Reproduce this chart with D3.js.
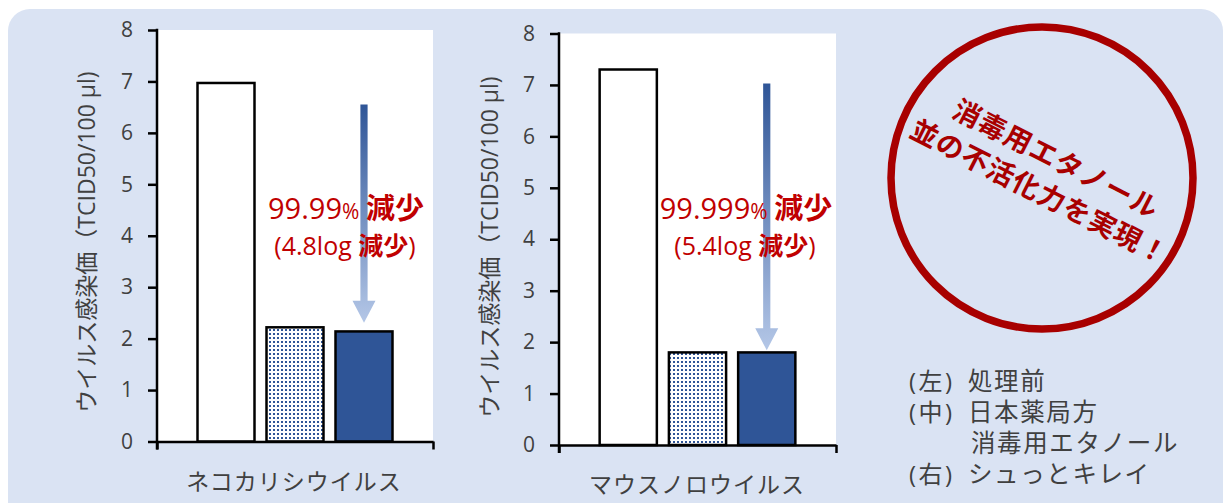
<!DOCTYPE html>
<html>
<head>
<meta charset="utf-8">
<script src="https://cdn.jsdelivr.net/npm/d3@7"></script>
<style>
  html, body { margin: 0; padding: 0; background: #ffffff; }
  svg { display: block; }
  text { font-family: "Open Sans", "Noto Sans CJK JP", sans-serif; }
</style>
</head>
<body>
<svg id="chart" width="1226" height="503"></svg>
<script>
// ---------------- data ----------------
const seriesNames = ["処理前", "日本薬局方 消毒用エタノール", "シュっとキレイ"];
const felineCategory = ["ネコカリシウイルス"];
const felineValues = [6.97, 2.22, 2.14];
const murineCategory = ["マウスノロウイルス"];
const murineValues = [7.30, 1.80, 1.80];
const yTicks = [0, 1, 2, 3, 4, 5, 6, 7, 8];
const yLabel = "ウイルス感染価（TCID50/100 µl)";
const felineArrow = [6.55, 2.31];   // arrow from / to (log value)
const murineArrow = [7.03, 1.84];
const felineNote = ["99.99", "%", " 減少", "(4.8log ", "減少", ")"];
const murineNote = ["99.999", "%", " 減少", "(5.4log ", "減少", ")"];
const stampLines = ["消毒用エタノール", "並の不活化力を実現！"];
const legendKeys = ["(左)", "(中)", "", "(右)"];
const legendTexts = ["処理前", "日本薬局方", "消毒用エタノール", "シュっとキレイ"];

// ---------------- style ----------------
const panelFill = "#dae3f3";
const barBlue = "#2f5597";
const lightBlue = "#b4c7e7";
const textGray = "#404040";
const noteRed = "#c00000";
const stampRed = "#a80000";

const svg = d3.select("#chart");

const defs = svg.append("defs");
const pat = defs.append("pattern")
  .attr("id", "dots").attr("patternUnits", "userSpaceOnUse")
  .attr("width", 4).attr("height", 4);
pat.append("rect").attr("width", 4).attr("height", 4).attr("fill", "#ffffff");
pat.append("rect").attr("x", 1).attr("y", 1).attr("width", 2).attr("height", 2).attr("fill", barBlue);

const grad = defs.append("linearGradient")
  .attr("id", "arrowGrad").attr("x1", 0).attr("y1", 0).attr("x2", 0).attr("y2", 1);
grad.append("stop").attr("offset", "0%").attr("stop-color", barBlue);
grad.append("stop").attr("offset", "100%").attr("stop-color", lightBlue);

// panel
svg.append("rect")
  .attr("x", 8).attr("y", 9).attr("width", 1215).attr("height", 530)
  .attr("rx", 22).attr("ry", 22).attr("fill", panelFill);

function drawChart(cfg) {
  const g = svg.append("g");
  const y = d3.scaleLinear().domain([0, 8]).range([cfg.y1, cfg.y0]);
  const xCat = d3.scaleBand().domain(cfg.category).range([cfg.x0, cfg.x1])
    .paddingInner(0).paddingOuter(0.2077);
  const xSer = d3.scaleBand().domain(seriesNames).range([0, xCat.bandwidth()])
    .paddingInner(0.174).paddingOuter(0);

  // plot area
  g.append("rect").attr("x", cfg.x0).attr("y", cfg.y0)
    .attr("width", cfg.x1 - cfg.x0).attr("height", cfg.y1 - cfg.y0)
    .attr("fill", "#ffffff");

  // bars
  const fills = ["#ffffff", "url(#dots)", barBlue];
  g.selectAll("rect.bar").data(cfg.values).enter().append("rect")
    .attr("class", "bar")
    .attr("x", (d, i) => xCat(cfg.category[0]) + xSer(seriesNames[i]))
    .attr("y", d => y(d))
    .attr("width", xSer.bandwidth())
    .attr("height", d => y(0) - y(d))
    .attr("fill", (d, i) => fills[i])
    .attr("stroke", "#000").attr("stroke-width", 2.5);

  // y axis
  const ya = g.append("g").attr("transform", `translate(${cfg.x0},0)`)
    .call(d3.axisLeft(y).tickValues(yTicks).tickSize(9).tickSizeOuter(0).tickPadding(15));
  ya.select(".domain").remove();
  ya.selectAll(".tick line").attr("stroke", "#000").attr("stroke-width", 2.5);
  ya.selectAll(".tick text").attr("fill", textGray).attr("font-size", 21)
    .attr("font-family", "Open Sans, sans-serif");
  g.append("line").attr("x1", cfg.x0).attr("x2", cfg.x0)
    .attr("y1", cfg.y0 - 1.25).attr("y2", cfg.y1 + 8)
    .attr("stroke", "#000").attr("stroke-width", 2.5);

  // x axis
  const xl = d3.scaleLinear().domain([0, 1]).range([cfg.x0, cfg.x1]);
  const xa = g.append("g").attr("transform", `translate(0,${cfg.y1})`)
    .call(d3.axisBottom(xl).tickValues([0, 1]).tickSize(8).tickSizeOuter(0).tickFormat(""));
  xa.select(".domain").attr("stroke", "#000").attr("stroke-width", 2.5);
  xa.selectAll(".tick line").attr("stroke", "#000").attr("stroke-width", 2.5);

  // axis titles
  g.append("text")
    .attr("transform", `translate(${cfg.yLabelX},${cfg.yLabelY}) rotate(-90)`)
    .attr("text-anchor", "middle").attr("dominant-baseline", "central")
    .attr("fill", textGray).attr("font-size", 23)
    .text(yLabel);
  g.append("text")
    .attr("x", cfg.xLabelX).attr("y", cfg.xLabelY)
    .attr("text-anchor", "middle").attr("dominant-baseline", "central")
    .attr("fill", textGray).attr("font-size", 23).attr("letter-spacing", 1)
    .text(cfg.category[0]);

  // arrow
  const ax = xCat(cfg.category[0]) + xSer(seriesNames[2]) + xSer.bandwidth() / 2;
  const yTop = y(cfg.arrow[0]), yTip = y(cfg.arrow[1]);
  const head = 22, sw = 3.6, hw = 11.5;
  g.append("path")
    .attr("d", `M${ax - sw},${yTop} L${ax + sw},${yTop} L${ax + sw},${yTip - head} L${ax + hw},${yTip - head} L${ax},${yTip} L${ax - hw},${yTip - head} L${ax - sw},${yTip - head} Z`)
    .attr("fill", "url(#arrowGrad)");

  // annotation
  const n = cfg.note;
  const t1 = g.append("text").attr("x", cfg.noteX).attr("y", 219)
    .attr("text-anchor", "middle").attr("fill", noteRed);
  t1.append("tspan").attr("font-size", 29).text(n[0]);
  t1.append("tspan").attr("font-size", 21).text(n[1]);
  t1.append("tspan").attr("font-size", 29).attr("font-weight", "bold")
    .attr("font-family", "Noto Sans CJK JP").text(n[2]);
  const t2 = g.append("text").attr("x", cfg.noteX - 1).attr("y", 255)
    .attr("text-anchor", "middle").attr("fill", noteRed).attr("font-size", 25);
  t2.append("tspan").text(n[3]);
  t2.append("tspan").attr("font-weight", "bold").attr("font-family", "Noto Sans CJK JP").text(n[4]);
  t2.append("tspan").text(n[5]);
}

drawChart({
  category: felineCategory, values: felineValues, arrow: felineArrow, note: felineNote,
  x0: 157, x1: 433, y0: 30, y1: 441.5,
  yLabelX: 86, yLabelY: 242, xLabelX: 294, xLabelY: 481, noteX: 346
});
drawChart({
  category: murineCategory, values: murineValues, arrow: murineArrow, note: murineNote,
  x0: 559, x1: 836, y0: 33.5, y1: 445,
  yLabelX: 489, yLabelY: 247, xLabelX: 697, xLabelY: 484, noteX: 746
});

// stamp
const stamp = svg.append("g").attr("transform", "translate(1042,178)");
stamp.append("circle").attr("r", 151).attr("fill", "none")
  .attr("stroke", stampRed).attr("stroke-width", 7.5);
const st = stamp.append("g").attr("transform", "rotate(27)");
st.selectAll("text").data(stampLines).enter().append("text")
  .attr("x", 4).attr("y", (d, i) => i === 0 ? -24 : 13)
  .attr("text-anchor", "middle").attr("dominant-baseline", "central")
  .attr("font-family", "Noto Sans CJK JP").attr("font-weight", "bold")
  .attr("font-size", 27.5).attr("letter-spacing", 1).attr("fill", stampRed)
  .text(d => d);

// legend
const lg = svg.append("g");
const legendY = [380, 411, 442, 473];
lg.selectAll("text.key").data(legendKeys).enter().append("text")
  .attr("class", "key").attr("x", 909).attr("y", (d, i) => legendY[i])
  .attr("dominant-baseline", "central").attr("fill", textGray).attr("font-size", 24)
  .attr("letter-spacing", 2.5)
  .text(d => d);
lg.selectAll("text.val").data(legendTexts).enter().append("text")
  .attr("class", "val").attr("x", (d, i) => i === 2 ? 971 : 968).attr("y", (d, i) => legendY[i])
  .attr("dominant-baseline", "central").attr("fill", textGray).attr("font-size", 24.5)
  .attr("letter-spacing", 1.6)
  .text(d => d);
</script>
</body>
</html>
